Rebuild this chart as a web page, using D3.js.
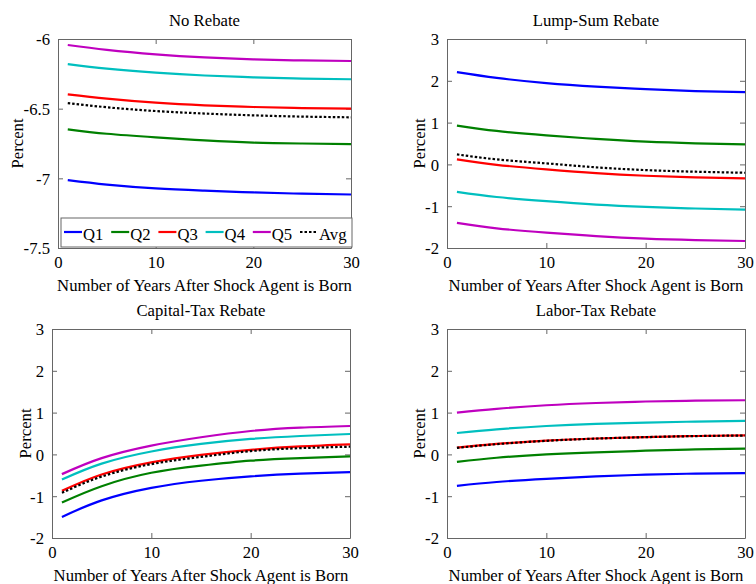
<!DOCTYPE html>
<html lang="en">
<head>
<meta charset="utf-8">
<script src="https://d3js.org/d3.v7.min.js"></script>
<style>
  body { margin: 0; background: #fff; }
  text { font-family: "Liberation Serif", "Times New Roman", serif; fill: #000; }
</style>
</head>
<body>
<div id="chart"></div>
<script>
  // years
  var years = [1, 5, 10, 15, 20, 25, 30];
  var seriesNames = ["Q1", "Q2", "Q3", "Q4", "Q5", "Avg"];
  var seriesColors = ["#0000ff", "#008000", "#ff0000", "#00bfbf", "#bf00bf", "#000000"];
  var panelTitles = ["No Rebate", "Lump-Sum Rebate", "Capital-Tax Rebate", "Labor-Tax Rebate"];
  var xTicks = [0, 10, 20, 30];
  var yTicksNoRebate = [-7.5, -7, -6.5, -6];
  var yTicksRebate = [-2, -1, 0, 1, 2, 3];

  // No Rebate
  var noQ1 = [-7.013, -7.045, -7.072, -7.088, -7.101, -7.110, -7.116];
  var noQ2 = [-6.648, -6.680, -6.706, -6.728, -6.744, -6.750, -6.754];
  var noQ3 = [-6.397, -6.428, -6.457, -6.476, -6.488, -6.496, -6.500];
  var noQ4 = [-6.180, -6.213, -6.242, -6.262, -6.275, -6.284, -6.289];
  var noQ5 = [-6.043, -6.078, -6.110, -6.132, -6.146, -6.154, -6.158];
  var noAvg = [-6.460, -6.490, -6.517, -6.535, -6.548, -6.557, -6.562];

  // Lump-Sum Rebate
  var lsQ1 = [2.208, 2.07, 1.944, 1.86, 1.80, 1.755, 1.728];
  var lsQ2 = [0.928, 0.80, 0.696, 0.61, 0.544, 0.505, 0.48];
  var lsQ3 = [0.12, -0.01, -0.12, -0.21, -0.272, -0.31, -0.336];
  var lsQ4 = [-0.656, -0.78, -0.88, -0.96, -1.016, -1.055, -1.08];
  var lsQ5 = [-1.40, -1.53, -1.632, -1.715, -1.776, -1.81, -1.832];
  var lsAvg = [0.24, 0.12, 0.024, -0.07, -0.136, -0.175, -0.20];

  // Capital-Tax Rebate
  var ktQ1 = [-1.496, -1.10, -0.80, -0.63, -0.525, -0.46, -0.424];
  var ktQ2 = [-1.15, -0.76, -0.44, -0.27, -0.15, -0.09, -0.048];
  var ktQ3 = [-0.872, -0.48, -0.19, -0.01, 0.11, 0.19, 0.24];
  var ktQ4 = [-0.60, -0.22, 0.07, 0.25, 0.37, 0.44, 0.488];
  var ktQ5 = [-0.472, -0.09, 0.21, 0.41, 0.56, 0.64, 0.68];
  var ktAvg = [-0.92, -0.53, -0.232, -0.06, 0.08, 0.15, 0.184];

  // Labor-Tax Rebate
  var ltQ1 = [-0.752, -0.66, -0.584, -0.525, -0.485, -0.46, -0.448];
  var ltQ2 = [-0.18, -0.08, 0.0, 0.05, 0.088, 0.12, 0.136];
  var ltQ3 = [0.16, 0.25, 0.328, 0.38, 0.415, 0.44, 0.456];
  var ltQ4 = [0.512, 0.60, 0.68, 0.73, 0.76, 0.785, 0.80];
  var ltQ5 = [1.0, 1.09, 1.176, 1.23, 1.265, 1.285, 1.296];
  var ltAvg = [0.155, 0.245, 0.325, 0.378, 0.413, 0.438, 0.452];

  var panelData = [
    [noQ1, noQ2, noQ3, noQ4, noQ5, noAvg],
    [lsQ1, lsQ2, lsQ3, lsQ4, lsQ5, lsAvg],
    [ktQ1, ktQ2, ktQ3, ktQ4, ktQ5, ktAvg],
    [ltQ1, ltQ2, ltQ3, ltQ4, ltQ5, ltAvg]
  ];
  var panelYTicks = [yTicksNoRebate, yTicksRebate, yTicksRebate, yTicksRebate];

  // plot boxes (left, right, top, bottom) and where "Percent" sits
  var boxes = [
    {l: 58, r: 351, t: 39, b: 248, lab: 35},
    {l: 447, r: 745, t: 39, b: 248, lab: 22},
    {l: 52, r: 350, t: 329, b: 538, lab: 21},
    {l: 447, r: 745, t: 329, b: 538, lab: 22}
  ];

  var W = 756, H = 584;
  var fs = "16.7px";
  var axisColor = "#666";
  var svg = d3.select("#chart").append("svg").attr("width", W).attr("height", H);

  panelData.forEach(function(series, p) {
    var bx = boxes[p];
    var yt = panelYTicks[p];
    var x = d3.scaleLinear().domain([0, 30]).range([bx.l, bx.r]);
    var y = d3.scaleLinear().domain([yt[0], yt[yt.length - 1]]).range([bx.b, bx.t]);
    var g = svg.append("g");
    var fmt = function(d) { return String(d); };

    // axes, ticks inward on all four sides (matlab box)
    var axB = g.append("g").attr("transform", "translate(0," + bx.b + ")")
      .call(d3.axisBottom(x).tickValues(xTicks).tickFormat(fmt).tickSizeInner(-5).tickSizeOuter(0).tickPadding(8));
    var axT = g.append("g").attr("transform", "translate(0," + bx.t + ")")
      .call(d3.axisTop(x).tickValues(xTicks).tickFormat("").tickSizeInner(-5).tickSizeOuter(0));
    var axL = g.append("g").attr("transform", "translate(" + bx.l + ",0)")
      .call(d3.axisLeft(y).tickValues(yt).tickFormat(fmt).tickSizeInner(-5).tickSizeOuter(0).tickPadding(8));
    var axR = g.append("g").attr("transform", "translate(" + bx.r + ",0)")
      .call(d3.axisRight(y).tickValues(yt).tickFormat("").tickSizeInner(-5).tickSizeOuter(0));
    [axB, axT, axL, axR].forEach(function(a) {
      a.selectAll("path, line").attr("stroke", axisColor);
      a.selectAll("text").style("font-size", fs).attr("fill", "#000");
    });
    axL.selectAll("text").attr("dy", "0.35em");

    var line = d3.line()
      .x(function(d, i) { return x(years[i]); })
      .y(function(d) { return y(d); })
      .curve(d3.curveNatural);

    series.forEach(function(vals, s) {
      g.append("path")
        .attr("d", line(vals))
        .attr("fill", "none")
        .attr("stroke", seriesColors[s])
        .attr("stroke-width", 2.2)
        .attr("stroke-dasharray", seriesNames[s] == "Avg" ? "2.5,2" : null);
    });

    g.append("text").attr("x", (bx.l + bx.r) / 2).attr("y", bx.t - 13)
      .attr("text-anchor", "middle").style("font-size", fs).text(panelTitles[p]);
    g.append("text").attr("x", (bx.l + bx.r) / 2).attr("y", bx.b + 43)
      .attr("text-anchor", "middle").style("font-size", fs)
      .text("Number of Years After Shock Agent is Born");
    g.append("text")
      .attr("transform", "translate(" + (bx.l - bx.lab) + "," + ((bx.t + bx.b) / 2) + ") rotate(-90)")
      .attr("text-anchor", "middle").style("font-size", fs).text("Percent");
  });

  // legend in the first panel
  var b0 = boxes[0];
  var leg = svg.append("g");
  leg.append("rect")
    .attr("x", b0.l + 3).attr("y", b0.b - 30)
    .attr("width", b0.r - b0.l - 2).attr("height", 29)
    .attr("fill", "#fff").attr("stroke", axisColor);
  seriesNames.forEach(function(name, i) {
    var x0 = b0.l + 6 + i * 47.2;
    leg.append("line")
      .attr("x1", x0).attr("x2", x0 + 18)
      .attr("y1", b0.b - 16).attr("y2", b0.b - 16)
      .attr("stroke", seriesColors[i]).attr("stroke-width", 2.2)
      .attr("stroke-dasharray", name == "Avg" ? "2.5,2" : null);
    leg.append("text").attr("x", x0 + 19).attr("y", b0.b - 8)
      .style("font-size", fs).text(name);
  });
</script>
</body>
</html>
